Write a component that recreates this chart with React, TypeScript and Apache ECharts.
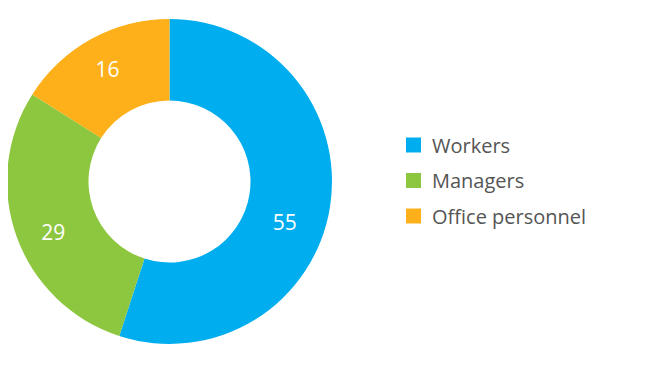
import React, { useEffect, useRef } from "react";
import * as echarts from "echarts";

const categories = ["Workers", "Managers", "Office personnel"];
const values = [55, 29, 16];
const colors = ["#00AEEF", "#8DC63F", "#FDB01A"];

export default function App() {
  const ref = useRef<HTMLDivElement>(null);
  useEffect(() => {
    const chart = echarts.init(ref.current!, null, { renderer: "svg" });
    chart.setOption({
      animation: false,
      color: colors,
      legend: {
        orient: "vertical",
        left: 393,
        top: 122,
        itemWidth: 15,
        itemHeight: 15,
        itemGap: 15.5,
        icon: "rect",
        data: categories,
        textStyle: {
          fontFamily: "Open Sans",
          fontSize: 20,
          color: "#555555",
          lineHeight: 20,
          padding: [0, 0, 0, 6],
        },
      },
      series: [
        {
          type: "pie",
          center: [161.5, 173.5],
          radius: [81, 162.5],
          startAngle: 90,
          clockwise: true,
          avoidLabelOverlap: false,
          label: {
            show: true,
            position: "inside",
            formatter: "{c}",
            color: "#ffffff",
            fontFamily: "Open Sans",
            fontSize: 21,
          },
          labelLine: { show: false },
          labelLayout: (p: any) =>
            p.dataIndex === 0
              ? { dx: -8, dy: 21 }
              : p.dataIndex === 1
              ? { dx: 1, dy: 8 }
              : { dx: -2, dy: -3 },
          emphasis: { disabled: true },
          itemStyle: { borderWidth: 0 },
          data: categories.map((name, i) => ({ name, value: values[i] })),
        },
      ],
    });
    return () => chart.dispose();
  }, []);
  return <div ref={ref} style={{ width: 649, height: 364 }} />;
}
